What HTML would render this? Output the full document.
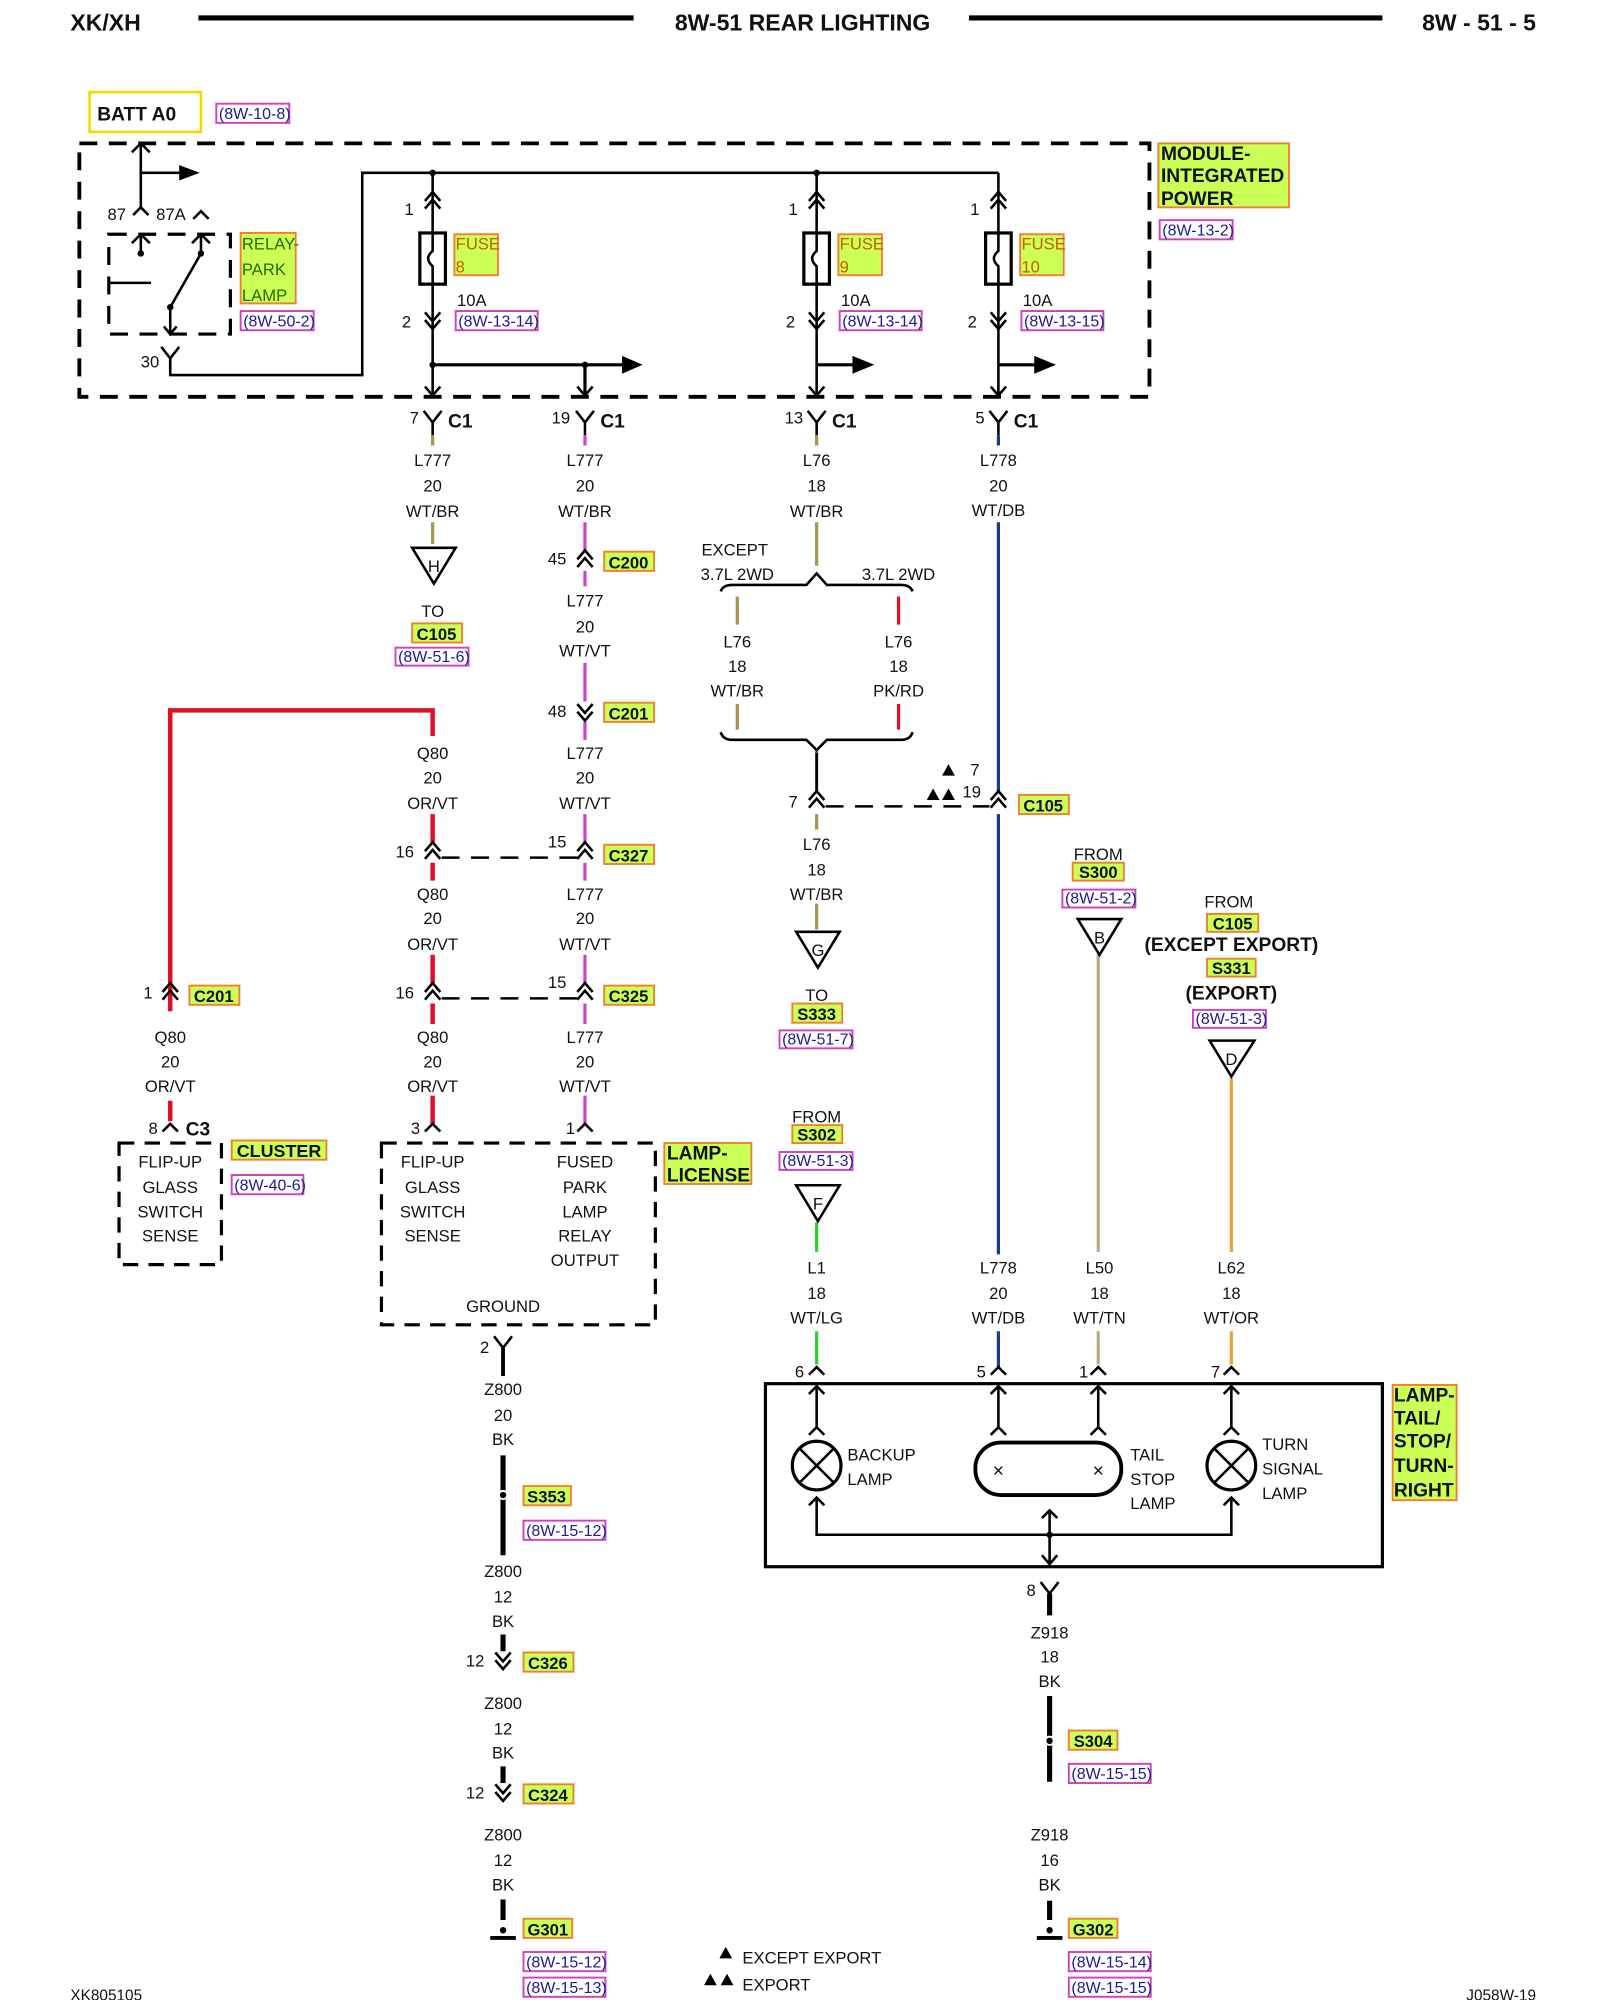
<!DOCTYPE html>
<html><head><meta charset="utf-8"><style>
html,body{margin:0;padding:0;background:#fff}
svg{display:block}
text{font-family:"Liberation Sans",Arial,sans-serif;font-size:13px;fill:#111}
.c{text-anchor:middle}
.b{font-weight:bold}
.h{font-weight:bold;font-size:18px}
.lb{font-weight:bold;font-size:15px}
.rf{fill:#1a1a9a;font-size:12.5px}
.w{fill:none;stroke-width:2.5}
.k{stroke:#000;fill:none;stroke-width:2}
.d{stroke:#000;fill:none;stroke-width:3;stroke-dasharray:14,9}
.gl{fill:#ccff55;stroke:#f08030;stroke-width:1.5}
.rb{fill:none;stroke:#d040c0;stroke-width:1.5}
</style></head><body>
<svg width="1600" height="2000" viewBox="0 0 1250 1562.5" xmlns="http://www.w3.org/2000/svg">
<defs>
<path id="fu" d="M-6,7 L0,0 L6,7 M-6,13 L0,6 L6,13" stroke="#000" stroke-width="2" fill="none"/>
<path id="fd" d="M-6,-7 L0,0 L6,-7 M-6,-13 L0,-6 L6,-13" stroke="#000" stroke-width="2" fill="none"/>
<path id="mu" d="M-6,6 L0,0 L6,6" stroke="#000" stroke-width="2" fill="none"/>
<path id="y" d="M-7,-9 L0,0 L7,-9 M0,0 V10" stroke="#000" stroke-width="2" fill="none"/>
</defs>

<text x="55" y="24" class="h">XK/XH</text>
<line x1="155" y1="14" x2="495" y2="14" stroke="#000" stroke-width="4"/>
<text x="627" y="24" class="h c">8W-51 REAR LIGHTING</text>
<line x1="757" y1="14" x2="1080" y2="14" stroke="#000" stroke-width="4"/>
<text x="1200" y="24" class="h" text-anchor="end">8W - 51 - 5</text>

<rect x="70" y="72" width="87" height="31" fill="none" stroke="#f5d800" stroke-width="2"/>
<text x="76" y="94" class="lb">BATT A0</text>
<rect x="169" y="81" width="57" height="15" class="rb"/><text x="171" y="93" class="rf">(8W-10-8)</text>

<rect x="62" y="112" width="836" height="198" class="d"/>
<rect x="905" y="112" width="102" height="50" class="gl"/>
<text x="907" y="125" class="lb">MODULE-</text><text x="907" y="142" class="lb">INTEGRATED</text><text x="907" y="160" class="lb">POWER</text>
<rect x="906" y="172" width="57" height="15" class="rb"/><text x="908" y="184" class="rf">(8W-13-2)</text>

<path class="k" d="M110,112 V162 M110,135 H140"/><path d="M140,129 L156,135 L140,141 Z"/>
<path class="k" d="M103,119 L110,112 L117,119"/>
<use href="#mu" x="110" y="162"/><use href="#mu" x="157" y="165"/>
<text x="84" y="172">87</text><text x="122" y="172">87A</text>
<rect x="85" y="183" width="95" height="78" class="d" style="stroke-width:2.5"/>
<path class="k" d="M110,183 V198 M103,190 L110,183 L117,190 M157,183 V198 M150,190 L157,183 L164,190 M157,198 L133,240 V261 M128,255 L133,261 L138,255 M85,221 H118"/>
<circle cx="110" cy="198" r="2.5"/><circle cx="157" cy="198" r="2.5"/><circle cx="133" cy="240" r="2.5"/>
<rect x="188" y="182" width="43" height="55" class="gl"/>
<text x="189" y="195" style="fill:#2a6a00">RELAY-</text><text x="189" y="215" style="fill:#2a6a00">PARK</text><text x="189" y="235" style="fill:#2a6a00">LAMP</text>
<rect x="188" y="243" width="57" height="15" class="rb"/><text x="190" y="255" class="rf">(8W-50-2)</text>
<use href="#y" x="133" y="280"/><path class="k" d="M133,280 V293 H283 V135 H780"/>
<text x="110" y="287">30</text>

<g>
<circle cx="338" cy="135" r="2.5"/><circle cx="638" cy="135" r="2.5"/>
<path class="k" d="M338,135 V310 M638,135 V310 M780,135 V310"/>
<use href="#fu" x="338" y="150"/><use href="#fu" x="638" y="150"/><use href="#fu" x="780" y="150"/>
<use href="#fd" x="338" y="257"/><use href="#fd" x="638" y="257"/><use href="#fd" x="780" y="257"/>
<text x="316" y="168">1</text><text x="616" y="168">1</text><text x="758" y="168">1</text>
<text x="314" y="256">2</text><text x="614" y="256">2</text><text x="756" y="256">2</text>
<rect x="328" y="182" width="20" height="40" fill="#fff" stroke="#000" stroke-width="2.5"/>
<rect x="628" y="182" width="20" height="40" fill="#fff" stroke="#000" stroke-width="2.5"/>
<rect x="770" y="182" width="20" height="40" fill="#fff" stroke="#000" stroke-width="2.5"/>
<path class="k" d="M338,182 V196 Q331,202 338,208 V222 M638,182 V196 Q631,202 638,208 V222 M780,182 V196 Q773,202 780,208 V222"/>
<rect x="355" y="183" width="34" height="32" class="gl"/><text x="356" y="195" style="fill:#c06000">FUSE</text><text x="356" y="213" style="fill:#c06000">8</text>
<rect x="655" y="183" width="34" height="32" class="gl"/><text x="656" y="195" style="fill:#c06000">FUSE</text><text x="656" y="213" style="fill:#c06000">9</text>
<rect x="797" y="183" width="34" height="32" class="gl"/><text x="798" y="195" style="fill:#c06000">FUSE</text><text x="798" y="213" style="fill:#c06000">10</text>
<text x="357" y="239">10A</text><text x="657" y="239">10A</text><text x="799" y="239">10A</text>
<rect x="356" y="243" width="64" height="15" class="rb"/><text x="358" y="255" class="rf">(8W-13-14)</text>
<rect x="656" y="243" width="64" height="15" class="rb"/><text x="658" y="255" class="rf">(8W-13-14)</text>
<rect x="798" y="243" width="64" height="15" class="rb"/><text x="800" y="255" class="rf">(8W-13-15)</text>
<path class="k" d="M338,285 H488 M457,285 V308 M638,285 H668 M780,285 H810" style="stroke-width:2.5"/>
<path d="M486,278 L502,285 L486,292 Z M666,278 L683,285 L666,292 Z M808,278 L825,285 L808,292 Z"/>
<circle cx="338" cy="285" r="2.5"/><circle cx="457" cy="285" r="2.5"/>
<path class="k" d="M332,302 L338,309 L344,302 M451,302 L457,309 L463,302 M632,302 L638,309 L644,302 M774,302 L780,309 L786,302"/>
</g>

<use href="#y" x="338" y="330"/><use href="#y" x="457" y="330"/><use href="#y" x="638" y="330"/><use href="#y" x="780" y="330"/>
<text x="320" y="331">7</text><text x="431" y="331">19</text><text x="613" y="331">13</text><text x="762" y="331">5</text>
<text x="350" y="334" class="lb">C1</text><text x="469" y="334" class="lb">C1</text><text x="650" y="334" class="lb">C1</text><text x="792" y="334" class="lb">C1</text>

<path class="w" stroke="#a89050" d="M338,340 V348 M338,408 V425"/>
<path class="w" stroke="#d040d0" d="M457,340 V348 M457,408 V430 M457,446 V458 M457,518 V548 M457,564 V578 M457,636 V658 M457,674 V688 M457,746 V768 M457,784 V800 M457,856 V878"/>
<path class="w" stroke="#a89050" d="M638,340 V348 M638,408 V442 M576,466 V488 M576,550 V570 M638,585 V620 M638,636 V648 M638,706 V726"/>
<path class="w" stroke="#e0102a" d="M702,466 V488 M702,550 V570"/>
<path class="w" stroke="#1c3a8a" d="M780,340 V348 M780,408 V620 M780,636 V980 M780,1040 V1068"/>
<path class="w" stroke="#e0102a" style="stroke-width:3.5" d="M133,790 V555 H338 V575 M338,636 V658 M338,674 V688 M338,746 V768 M338,784 V800 M338,856 V878 M133,860 V876"/>
<path class="w" stroke="#30d030" d="M638,955 V978 M638,1040 V1066"/>
<path class="w" stroke="#b8a888" d="M858,745 V978 M858,1040 V1066"/>
<path class="w" stroke="#f0a030" d="M962,842 V978 M962,1040 V1066"/>

<text x="338" y="364" class="c">L777</text><text x="338" y="384" class="c">20</text><text x="338" y="404" class="c">WT/BR</text>
<path d="M322,428 L356,428 L339,456 Z" fill="#fff" stroke="#000" stroke-width="2"/><text x="339" y="447" class="c">H</text>
<text x="338" y="482" class="c">TO</text>
<rect x="322" y="487" width="39" height="15" class="gl"/><text x="341" y="500" class="b c">C105</text>
<rect x="309" y="506" width="57" height="14" class="rb"/><text x="311" y="517" class="rf">(8W-51-6)</text>

<text x="457" y="364" class="c">L777</text><text x="457" y="384" class="c">20</text><text x="457" y="404" class="c">WT/BR</text>
<use href="#fu" x="457" y="430"/><text x="428" y="441">45</text>
<rect x="472" y="431" width="39" height="15" class="gl"/><text x="491" y="444" class="b c">C200</text>
<text x="457" y="474" class="c">L777</text><text x="457" y="494" class="c">20</text><text x="457" y="513" class="c">WT/VT</text>
<use href="#fd" x="457" y="563"/><text x="428" y="560">48</text>
<rect x="472" y="549" width="39" height="15" class="gl"/><text x="491" y="562" class="b c">C201</text>
<text x="457" y="593" class="c">L777</text><text x="457" y="612" class="c">20</text><text x="457" y="632" class="c">WT/VT</text>
<use href="#fu" x="457" y="658"/><text x="428" y="662">15</text>
<rect x="472" y="660" width="39" height="15" class="gl"/><text x="491" y="673" class="b c">C327</text>
<text x="457" y="703" class="c">L777</text><text x="457" y="722" class="c">20</text><text x="457" y="742" class="c">WT/VT</text>
<use href="#fu" x="457" y="768"/><text x="428" y="772">15</text>
<rect x="472" y="770" width="39" height="15" class="gl"/><text x="491" y="783" class="b c">C325</text>
<text x="457" y="815" class="c">L777</text><text x="457" y="834" class="c">20</text><text x="457" y="853" class="c">WT/VT</text>
<use href="#mu" x="457" y="878"/><text x="442" y="886">1</text>

<text x="338" y="593" class="c">Q80</text><text x="338" y="612" class="c">20</text><text x="338" y="632" class="c">OR/VT</text>
<use href="#fu" x="338" y="658"/><text x="309" y="670">16</text>
<path class="k" d="M345,670 H451" stroke-dasharray="14,9"/>
<text x="338" y="703" class="c">Q80</text><text x="338" y="722" class="c">20</text><text x="338" y="742" class="c">OR/VT</text>
<use href="#fu" x="338" y="768"/><text x="309" y="780">16</text>
<path class="k" d="M345,780 H451" stroke-dasharray="14,9"/>
<text x="338" y="815" class="c">Q80</text><text x="338" y="834" class="c">20</text><text x="338" y="853" class="c">OR/VT</text>
<use href="#mu" x="338" y="878"/><text x="321" y="886">3</text>

<use href="#fu" x="133" y="768"/><text x="112" y="780">1</text>
<rect x="148" y="770" width="39" height="15" class="gl"/><text x="167" y="783" class="b c">C201</text>
<text x="133" y="815" class="c">Q80</text><text x="133" y="834" class="c">20</text><text x="133" y="853" class="c">OR/VT</text>
<use href="#mu" x="133" y="878"/><text x="116" y="886">8</text><text x="145" y="887" class="lb">C3</text>
<rect x="93" y="893" width="80" height="95" class="d" style="stroke-width:2.5;stroke-dasharray:12,8"/>
<text x="133" y="912" class="c">FLIP-UP</text><text x="133" y="932" class="c">GLASS</text><text x="133" y="951" class="c">SWITCH</text><text x="133" y="970" class="c">SENSE</text>
<rect x="181" y="891" width="74" height="15" class="gl"/><text x="218" y="904" class="b c" style="font-size:14px">CLUSTER</text>
<rect x="181" y="918" width="56" height="15" class="rb"/><text x="183" y="930" class="rf">(8W-40-6)</text>

<rect x="298" y="893" width="214" height="142" class="d" style="stroke-width:2.5;stroke-dasharray:12,8"/>
<text x="338" y="912" class="c">FLIP-UP</text><text x="338" y="932" class="c">GLASS</text><text x="338" y="951" class="c">SWITCH</text><text x="338" y="970" class="c">SENSE</text>
<text x="457" y="912" class="c">FUSED</text><text x="457" y="932" class="c">PARK</text><text x="457" y="951" class="c">LAMP</text><text x="457" y="970" class="c">RELAY</text><text x="457" y="989" class="c">OUTPUT</text>
<text x="393" y="1025" class="c">GROUND</text>
<rect x="519" y="893" width="68" height="32" class="gl"/><text x="521" y="906" class="lb">LAMP-</text><text x="521" y="923" class="lb">LICENSE</text>

<use href="#y" x="393" y="1053"/><path class="k" d="M393,1053 V1075" style="stroke-width:3"/><text x="375" y="1057">2</text>
<text x="393" y="1090" class="c">Z800</text><text x="393" y="1110" class="c">20</text><text x="393" y="1129" class="c">BK</text>
<path class="k" style="stroke-width:4" d="M393,1137 V1215 M393,1277 V1290 M393,1380 V1393 M393,1484 V1500"/>
<circle cx="393" cy="1168" r="3.5" fill="#fff" stroke="#fff"/><circle cx="393" cy="1168" r="2.5"/>
<rect x="409" y="1161" width="37" height="15" class="gl"/><text x="427" y="1174" class="b c">S353</text>
<rect x="409" y="1188" width="64" height="15" class="rb"/><text x="411" y="1200" class="rf">(8W-15-12)</text>
<text x="393" y="1232" class="c">Z800</text><text x="393" y="1252" class="c">12</text><text x="393" y="1271" class="c">BK</text>
<use href="#fd" x="393" y="1304"/><text x="364" y="1302">12</text>
<rect x="409" y="1291" width="39" height="15" class="gl"/><text x="428" y="1304" class="b c">C326</text>
<text x="393" y="1335" class="c">Z800</text><text x="393" y="1355" class="c">12</text><text x="393" y="1374" class="c">BK</text>
<use href="#fd" x="393" y="1407"/><text x="364" y="1405">12</text>
<rect x="409" y="1394" width="39" height="15" class="gl"/><text x="428" y="1407" class="b c">C324</text>
<text x="393" y="1438" class="c">Z800</text><text x="393" y="1458" class="c">12</text><text x="393" y="1477" class="c">BK</text>
<circle cx="393" cy="1508" r="2.5"/><path class="k" style="stroke-width:3" d="M383,1514 H403"/>
<rect x="409" y="1499" width="38" height="15" class="gl"/><text x="428" y="1512" class="b c">G301</text>
<rect x="409" y="1525" width="64" height="15" class="rb"/><text x="411" y="1537" class="rf">(8W-15-12)</text>
<rect x="409" y="1545" width="64" height="15" class="rb"/><text x="411" y="1557" class="rf">(8W-15-13)</text>

<text x="638" y="364" class="c">L76</text><text x="638" y="384" class="c">18</text><text x="638" y="404" class="c">WT/BR</text>
<text x="574" y="434" class="c">EXCEPT</text><text x="576" y="453" class="c">3.7L 2WD</text><text x="702" y="453" class="c">3.7L 2WD</text>
<path class="k" d="M563,462 Q565,457 572,457 H630 L638,448 L646,457 H704 Q711,457 713,462"/>
<text x="576" y="506" class="c">L76</text><text x="576" y="525" class="c">18</text><text x="576" y="544" class="c">WT/BR</text>
<text x="702" y="506" class="c">L76</text><text x="702" y="525" class="c">18</text><text x="702" y="544" class="c">PK/RD</text>
<path class="k" d="M563,572 Q565,578 572,578 H630 L638,586 L646,578 H704 Q711,578 713,572"/>
<path class="k" d="M638,588 V620"/>
<use href="#fu" x="638" y="618"/><text x="616" y="631">7</text>
<path class="k" d="M645,630 H773" stroke-dasharray="14,9"/>
<use href="#fu" x="780" y="618"/>
<path d="M736,606 L741,597 L746,606 Z M724,625 L729,616 L734,625 Z M736,625 L741,616 L746,625 Z"/>
<text x="758" y="606">7</text><text x="752" y="623">19</text>
<rect x="796" y="621" width="39" height="15" class="gl"/><text x="815" y="634" class="b c">C105</text>
<text x="638" y="664" class="c">L76</text><text x="638" y="684" class="c">18</text><text x="638" y="703" class="c">WT/BR</text>
<path d="M622,728 L656,728 L639,756 Z" fill="#fff" stroke="#000" stroke-width="2"/><text x="639" y="747" class="c">G</text>
<text x="638" y="782" class="c">TO</text>
<rect x="619" y="784" width="39" height="15" class="gl"/><text x="638" y="797" class="b c">S333</text>
<rect x="609" y="805" width="57" height="14" class="rb"/><text x="611" y="816" class="rf">(8W-51-7)</text>

<text x="780" y="364" class="c">L778</text><text x="780" y="384" class="c">20</text><text x="780" y="403" class="c">WT/DB</text>

<text x="858" y="672" class="c">FROM</text>
<rect x="838" y="674" width="40" height="14" class="gl"/><text x="858" y="686" class="b c">S300</text>
<rect x="830" y="695" width="57" height="14" class="rb"/><text x="832" y="706" class="rf">(8W-51-2)</text>
<path d="M842,718 L876,718 L859,746 Z" fill="#fff" stroke="#000" stroke-width="2"/><text x="859" y="737" class="c">B</text>

<text x="960" y="709" class="c">FROM</text>
<rect x="943" y="714" width="40" height="14" class="gl"/><text x="963" y="726" class="b c">C105</text>
<text x="962" y="743" class="lb c">(EXCEPT EXPORT)</text>
<rect x="943" y="749" width="38" height="14" class="gl"/><text x="962" y="761" class="b c">S331</text>
<text x="962" y="781" class="lb c">(EXPORT)</text>
<rect x="932" y="789" width="57" height="14" class="rb"/><text x="934" y="800" class="rf">(8W-51-3)</text>
<path d="M945,813 L980,813 L962,841 Z" fill="#fff" stroke="#000" stroke-width="2"/><text x="962" y="832" class="c">D</text>

<text x="638" y="877" class="c">FROM</text>
<rect x="619" y="879" width="39" height="14" class="gl"/><text x="638" y="891" class="b c">S302</text>
<rect x="609" y="900" width="57" height="14" class="rb"/><text x="611" y="911" class="rf">(8W-51-3)</text>
<path d="M622,926 L656,926 L639,954 Z" fill="#fff" stroke="#000" stroke-width="2"/><text x="639" y="945" class="c">F</text>

<text x="638" y="995" class="c">L1</text><text x="638" y="1015" class="c">18</text><text x="638" y="1034" class="c">WT/LG</text>
<text x="780" y="995" class="c">L778</text><text x="780" y="1015" class="c">20</text><text x="780" y="1034" class="c">WT/DB</text>
<text x="859" y="995" class="c">L50</text><text x="859" y="1015" class="c">18</text><text x="859" y="1034" class="c">WT/TN</text>
<text x="962" y="995" class="c">L62</text><text x="962" y="1015" class="c">18</text><text x="962" y="1034" class="c">WT/OR</text>
<use href="#mu" x="638" y="1068"/><use href="#mu" x="780" y="1068"/><use href="#mu" x="858" y="1068"/><use href="#mu" x="962" y="1068"/>
<text x="621" y="1076">6</text><text x="763" y="1076">5</text><text x="843" y="1076">1</text><text x="946" y="1076">7</text>

<rect x="598" y="1081" width="482" height="143" fill="none" stroke="#000" stroke-width="2.5"/>
<path class="k" d="M638,1083 V1115 M780,1083 V1115 M858,1083 V1115 M962,1083 V1115"/>
<path class="k" d="M632,1089 L638,1083 L644,1089 M774,1089 L780,1083 L786,1089 M852,1089 L858,1083 L864,1089 M956,1089 L962,1083 L968,1089 M632,1121 L638,1115 L644,1121 M774,1121 L780,1115 L786,1121 M852,1121 L858,1115 L864,1121 M956,1121 L962,1115 L968,1121"/>
<circle cx="638" cy="1145" r="19" fill="none" stroke="#000" stroke-width="2.5"/>
<path class="k" d="M625,1132 L651,1158 M651,1132 L625,1158"/>
<circle cx="962" cy="1145" r="19" fill="none" stroke="#000" stroke-width="2.5"/>
<path class="k" d="M949,1132 L975,1158 M975,1132 L949,1158"/>
<rect x="762" y="1127" width="114" height="41" rx="20" fill="none" stroke="#000" stroke-width="3"/>
<text x="780" y="1154" class="c" style="font-size:15px">×</text><text x="858" y="1154" class="c" style="font-size:15px">×</text>
<text x="662" y="1141">BACKUP</text><text x="662" y="1160">LAMP</text>
<text x="883" y="1141">TAIL</text><text x="883" y="1160">STOP</text><text x="883" y="1179">LAMP</text>
<text x="986" y="1133">TURN</text><text x="986" y="1152">SIGNAL</text><text x="986" y="1171">LAMP</text>
<path class="k" d="M638,1170 V1199 H962 V1170 M632,1176 L638,1170 L644,1176 M956,1176 L962,1170 L968,1176 M820,1180 V1222 M814,1186 L820,1180 L826,1186 M814,1215 L820,1222 L826,1215"/>
<circle cx="820" cy="1199" r="2.5"/>
<rect x="1088" y="1082" width="50" height="90" class="gl"/>
<text x="1089" y="1095" class="lb">LAMP-</text><text x="1089" y="1113" class="lb">TAIL/</text><text x="1089" y="1131" class="lb">STOP/</text><text x="1089" y="1150" class="lb">TURN-</text><text x="1089" y="1169" class="lb">RIGHT</text>

<use href="#y" x="820" y="1245"/><path class="k" style="stroke-width:4" d="M820,1245 V1262 M820,1325 V1392 M820,1485 V1500"/>
<text x="802" y="1247">8</text>
<text x="820" y="1280" class="c">Z918</text><text x="820" y="1299" class="c">18</text><text x="820" y="1318" class="c">BK</text>
<circle cx="820" cy="1360" r="3.5" fill="#fff" stroke="#fff"/><circle cx="820" cy="1360" r="2.5"/>
<rect x="835" y="1352" width="38" height="15" class="gl"/><text x="854" y="1365" class="b c">S304</text>
<rect x="835" y="1378" width="64" height="15" class="rb"/><text x="837" y="1390" class="rf">(8W-15-15)</text>
<text x="820" y="1438" class="c">Z918</text><text x="820" y="1458" class="c">16</text><text x="820" y="1477" class="c">BK</text>
<circle cx="820" cy="1508" r="2.5"/><path class="k" style="stroke-width:3" d="M810,1514 H830"/>
<rect x="835" y="1499" width="38" height="15" class="gl"/><text x="854" y="1512" class="b c">G302</text>
<rect x="835" y="1525" width="64" height="15" class="rb"/><text x="837" y="1537" class="rf">(8W-15-14)</text>
<rect x="835" y="1545" width="64" height="15" class="rb"/><text x="837" y="1557" class="rf">(8W-15-15)</text>

<path d="M562,1530 L567,1521 L572,1530 Z M550,1551 L555,1542 L560,1551 Z M563,1551 L568,1542 L573,1551 Z"/>
<text x="580" y="1534">EXCEPT EXPORT</text><text x="580" y="1555">EXPORT</text>
<text x="55" y="1563" style="font-size:12px">XK805105</text>
<text x="1200" y="1563" style="font-size:12px" text-anchor="end">J058W-19</text>
</svg>
</body></html>
